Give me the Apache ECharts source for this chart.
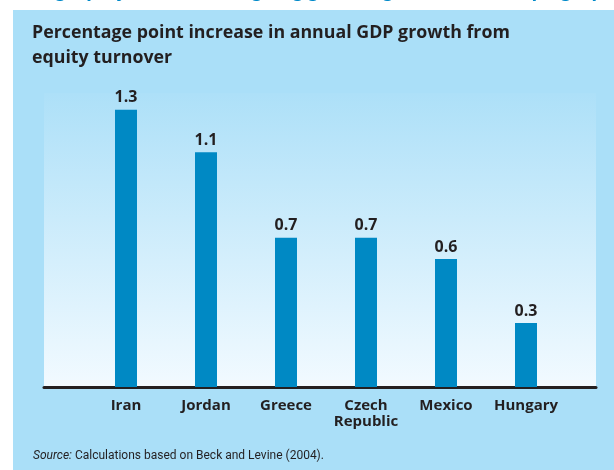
<!DOCTYPE html>
<html><head><meta charset="utf-8">
<script src="https://cdn.jsdelivr.net/npm/echarts@6/dist/echarts.min.js"></script>
<style>html,body{margin:0;padding:0;background:#fff}#c{width:614px;height:470px}</style>
</head><body><div id="c"></div>
<script>
const categories = ['Iran', 'Jordan', 'Greece', 'Czech\nRepublic', 'Mexico', 'Hungary'];
const values = [1.3, 1.1, 0.7, 0.7, 0.6, 0.3];
const titleText = 'Percentage point increase in annual GDP growth from\nequity turnover';
const headerText = 'Raising equity turnover brings big gains in growth in developing equity markets';

const chart = echarts.init(document.getElementById('c'), null, {renderer: 'canvas'});
const dark = '#231f20';
const FF = '"Open Sans"';
chart.setOption({
  animation: false,
  backgroundColor: '#aadff8',
  graphic: [
    {type: 'rect', left: 0, top: 0, shape: {width: 13, height: 470}, style: {fill: '#ffffff'}, silent: true},
    {type: 'rect', left: 0, top: 0, shape: {width: 614, height: 10}, style: {fill: '#ffffff'}, silent: true},
    {type: 'text', left: 2, top: -19, style: {text: headerText, fill: '#0089c9', font: 'italic bold 19px ' + FF}, silent: true},
    {type: 'text', left: 32, top: 20, style: {text: titleText, fill: dark, font: 'bold 17.8px ' + FF, lineHeight: 25}, silent: true},
    {type: 'text', left: 33, top: 450, style: {
      text: '{i|Source:} Calculations based on Beck and Levine (2004).',
      fill: dark, font: '12px Roboto',
      rich: {i: {fontStyle: 'italic', fontFamily: 'Roboto', fontSize: 12, fill: dark}}
    }, silent: true}
  ],
  grid: [
    {left: 44, right: 18, top: 93, bottom: 83, show: true, borderWidth: 0,
     backgroundColor: new echarts.graphic.LinearGradient(0, 0, 0, 1, [
       {offset: 0, color: '#ade0f8'}, {offset: 1, color: '#f2faff'}])},
    {left: 86, width: 480, top: 67, bottom: 83}
  ],
  xAxis: [
    {gridIndex: 0, type: 'value', min: 0, max: 1, axisLabel: {show: false}, axisTick: {show: false}, splitLine: {show: false},
     axisLine: {show: true, lineStyle: {color: dark, width: 3}}},
    {gridIndex: 1, type: 'category', data: categories, axisLine: {show: false}, axisTick: {show: false},
     axisLabel: {color: dark, fontFamily: 'Open Sans', fontWeight: 'bold', fontSize: 15, lineHeight: 16, margin: 11, interval: 0}}
  ],
  yAxis: [
    {gridIndex: 0, type: 'value', show: false},
    {gridIndex: 1, type: 'value', min: 0, max: 1.5, show: false}
  ],
  series: [{
    type: 'bar', xAxisIndex: 1, yAxisIndex: 1, data: values, barWidth: 22,
    itemStyle: {color: '#0089c4'},
    label: {show: true, position: 'top', distance: 4, color: dark, fontFamily: 'Open Sans', fontWeight: 'bold', fontSize: 16,
      formatter: p => p.value.toFixed(1)}
  }]
});
</script></body></html>
